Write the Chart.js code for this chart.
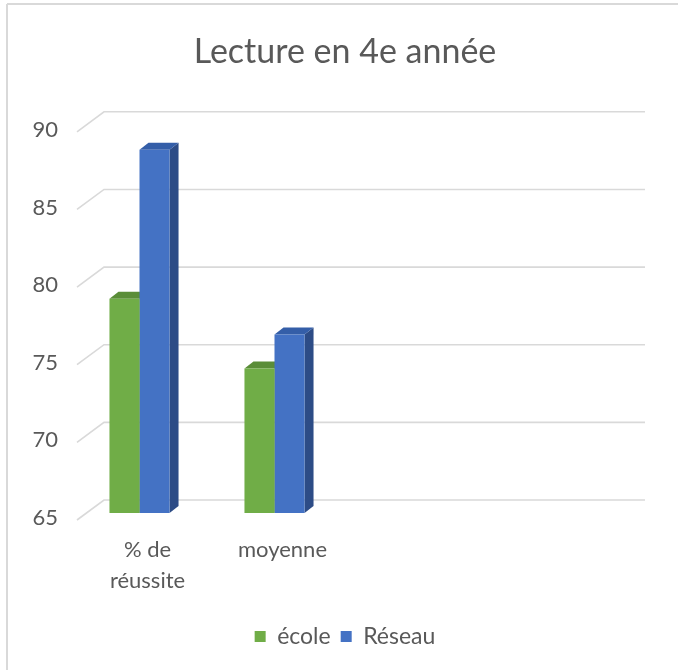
<!DOCTYPE html>
<html>
<head>
<meta charset="utf-8">
<script src="https://cdn.jsdelivr.net/npm/chart.js@4"></script>
<style>
  html, body { margin: 0; padding: 0; background: #fff; }
  #wrap { position: absolute; left: 0; top: 0; width: 678px; height: 670px; }
</style>
</head>
<body>
<div id="wrap"><canvas id="chart" width="678" height="670"></canvas></div>
<script>
// Data
const categories = [["% de", "réussite"], "moyenne", "", ""];
const ecole = [78.8, 74.3, null, null];
const reseau = [88.4, 76.5, null, null];
const yMin = 65;
const yMax = 90;
const yStep = 5;

const textGrey = "#595959";
const gridGrey = "#d9d9d9";

// fake 3D: side and top faces, plus a back wall grid
const pseudo3d = {
  id: "pseudo3d",
  beforeDraw(chart) {
    const ctx = chart.ctx;
    ctx.save();
    ctx.fillStyle = "#fff";
    ctx.fillRect(0, 0, chart.width, chart.height);
    ctx.strokeStyle = gridGrey;
    ctx.lineWidth = 2;
    ctx.beginPath();
    ctx.moveTo(7, 4);
    ctx.lineTo(chart.width, 4);
    ctx.moveTo(7, 4);
    ctx.lineTo(7, chart.height);
    ctx.stroke();
    ctx.restore();
  },
  beforeDatasetsDraw(chart) {
    const ctx = chart.ctx;
    const area = chart.chartArea;
    const y = chart.scales.y;
    ctx.save();
    ctx.strokeStyle = gridGrey;
    ctx.lineWidth = 1.6;
    for (let v = yMin; v <= yMax; v += yStep) {
      const yf = y.getPixelForValue(v);
      ctx.beginPath();
      ctx.moveTo(area.left + 5, yf + 7);
      ctx.lineTo(area.left + 32, yf - 13);
      ctx.lineTo(area.right + 33, yf - 13);
      ctx.stroke();
    }
    const d = 9, h = 7;
    chart.data.datasets.forEach((ds, i) => {
      const meta = chart.getDatasetMeta(i);
      meta.data.forEach((bar, j) => {
        if (ds.data[j] == null) return;
        const p = bar.getProps(["x", "y", "base", "width"], true);
        const l = p.x - p.width / 2, r = p.x + p.width / 2;
        const b = Math.min(p.base, area.bottom);
        // side
        ctx.fillStyle = ds.sideColor;
        ctx.beginPath();
        ctx.moveTo(r, p.y);
        ctx.lineTo(r + d, p.y - h);
        ctx.lineTo(r + d, b - h);
        ctx.lineTo(r, b);
        ctx.closePath();
        ctx.fill();
        // top
        ctx.fillStyle = ds.topColor;
        ctx.beginPath();
        ctx.moveTo(l, p.y);
        ctx.lineTo(r, p.y);
        ctx.lineTo(r + d, p.y - h);
        ctx.lineTo(l + d, p.y - h);
        ctx.closePath();
        ctx.fill();
      });
    });
    ctx.restore();
  }
};

new Chart(document.getElementById("chart"), {
  type: "bar",
  data: {
    labels: categories,
    datasets: [
      {
        label: "école",
        data: ecole,
        backgroundColor: "#70ad47",
        topColor: "#5a8d38",
        sideColor: "#4e7a31"
      },
      {
        label: "Réseau",
        data: reseau,
        backgroundColor: "#4472c4",
        topColor: "#345ea8",
        sideColor: "#2d4c86"
      }
    ]
  },
  options: {
    responsive: false,
    animation: false,
    layout: { padding: { top: 20, left: 12, right: 0, bottom: 12 } },
    datasets: {
      bar: { barPercentage: 1, categoryPercentage: 0.445, borderWidth: 0 }
    },
    scales: {
      x: {
        grid: { display: false },
        border: { display: false },
        ticks: {
          color: textGrey,
          font: { family: "Lato", size: 22, lineHeight: 1.38 },
          padding: 14,
          labelOffset: 8,
          maxRotation: 0,
          autoSkip: false
        },
        afterFit(s) { s.height = 102; }
      },
      y: {
        min: yMin,
        max: yMax,
        grid: { display: false },
        border: { display: false },
        ticks: {
          stepSize: yStep,
          color: textGrey,
          font: { family: "Lato", size: 22 },
          padding: 6,
          labelOffset: 5
        },
        afterFit(s) { s.width = 60; }
      },
      // empty right axis, only keeps the wall room on the right
      yRight: {
        position: "right",
        grid: { display: false },
        border: { display: false },
        ticks: { display: false },
        afterFit(s) { s.width = 66; }
      }
    },
    plugins: {
      title: {
        display: true,
        text: "Lecture en 4e année",
        color: textGrey,
        font: { family: "Lato", size: 34, weight: "normal" },
        padding: { top: 12, bottom: 52 }
      },
      legend: {
        position: "bottom",
        labels: {
          color: textGrey,
          font: { family: "Lato", size: 23 },
          boxWidth: 11,
          boxHeight: 11,
          padding: 10
        }
      },
      tooltip: { enabled: false }
    }
  },
  plugins: [pseudo3d]
});
</script>
</body>
</html>
